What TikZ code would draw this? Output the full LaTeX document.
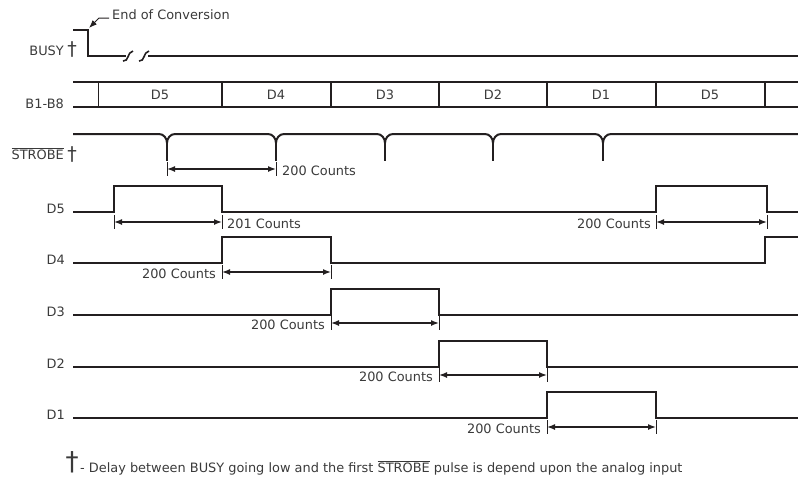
\documentclass[tikz,border=0pt]{standalone}
\usepackage{fontspec}
\setmainfont{DejaVu Sans}
\usepackage{amsmath}
\usetikzlibrary{arrows.meta}
\definecolor{ink}{HTML}{231F20}
\definecolor{txt}{HTML}{3A3A3A}

\begin{document}
\begin{tikzpicture}[x=1pt,y=-1pt,
  sig/.style={ink,line width=2pt},
  dim/.style={ink,line width=1.4pt,{Latex[length=8pt,width=6pt]}-{Latex[length=8pt,width=6pt]}},
  tick/.style={ink,line width=0.7pt},
  lab/.style={txt,font=\fontsize{12.9}{14}\selectfont,inner sep=0pt},
  dag/.style={txt,font=\fontsize{19}{20}\selectfont,inner sep=0pt}]
\useasboundingbox (0,0) rectangle (798,483);

\node[lab,anchor=base east] (busy) at (64,55) {BUSY};
\node[dag,anchor=base] (busydag) at (72,55) {†};
\draw[sig] (73,30) -- (88,30) -- (88,56) -- (126,56);
\draw[sig,line width=1.6pt] (123,61) .. controls (129,62) and (127,52) .. (133,51);
\draw[sig,line width=1.6pt] (139,61) .. controls (145,62) and (143,52) .. (149,51);
\draw[sig] (148,56) -- (798,56);
\node[lab,anchor=base west] (eoc) at (112,19) {End of Conversion};
\coordinate (fall) at (89,28);
\draw[ink,line width=1pt,-{Latex[length=8pt,width=6pt]}] (eoc.base west) ++(-3,-1) -- ++(-10,0) -- (fall);

\node[lab,anchor=base east] (bus) at (64,108) {B1-B8};
\draw[sig,line width=2.5pt] (73,82) -- (798,82) (73,107) -- (798,107);
\draw[ink,line width=0.8pt] (98,82) -- (98,107);
\foreach \x in {222,331,439,547,656,765} \draw[sig] (\x,82) -- (\x,107);
\foreach \x/\t in {160/D5,276/D4,385/D3,493/D2,601/D1,710/D5}
  \node[lab] (cell\x) at (\x,95) {\t};

\node[lab,anchor=base east] (strobe) at (64,159) {$\overline{\text{STROBE}}$};
\node[dag,anchor=base] (strobedag) at (72,160) {†};
\draw[sig] (73,134) foreach \x in {167,276,385,493,603}
  { -- (\x-8,134) to[out=0,in=90] (\x,143) to[out=90,in=180] (\x+8,134) } -- (798,134);
\foreach \x in {167,276,385,493,603} \draw[sig] (\x,143) -- (\x,161);

\node[lab,anchor=base east] (d5) at (65,213) {D5};
\node[lab,anchor=base east] (d4) at (65,264) {D4};
\node[lab,anchor=base east] (d3) at (65,316) {D3};
\node[lab,anchor=base east] (d2) at (65,368) {D2};
\node[lab,anchor=base east] (d1) at (65,419) {D1};
\draw[sig] (73,212) -- (114,212) -- (114,186) -- (222,186) -- (222,212) -- (656,212)
  -- (656,186) -- (767,186) -- (767,212) -- (798,212);
\draw[sig] (73,263) -- (222,263) -- (222,237) -- (331,237) -- (331,263) -- (765,263)
  -- (765,237) -- (798,237);
\foreach \lo/\a/\b in {315/331/439,367/439/547,418/547/656}
  \draw[sig] (73,\lo) -- (\a,\lo) -- (\a,\lo-26) -- (\b,\lo-26) -- (\b,\lo) -- (798,\lo);

\foreach \a/\b/\y in {167/276/169,114/222/222,656/767/222,222/331/272,331/439/323,439/547/375,547/656/427}
{
  \draw[dim] (\a,\y) -- (\b,\y);
  \draw[tick] (\a,\y-7) -- (\a,\y+7) (\b,\y-7) -- (\b,\y+7);
}
\node[lab,anchor=base west] (n1) at (282,175) {200 Counts};
\node[lab,anchor=base west] (n2) at (227,228) {201 Counts};
\node[lab,anchor=base east] (n3) at (651,228) {200 Counts};
\node[lab,anchor=base east] (n4) at (216,278) {200 Counts};
\node[lab,anchor=base east] (n5) at (325,329) {200 Counts};
\node[lab,anchor=base east] (n6) at (433,381) {200 Counts};
\node[lab,anchor=base east] (n7) at (541,433) {200 Counts};

\node[dag,font=\fontsize{26}{28}\selectfont,anchor=base] (fndag) at (72,470) {†};
\node[lab,anchor=base west] (note) at (80,472)
  {- Delay between BUSY going low and the first $\overline{\text{STROBE}}$ pulse is depend upon the analog input};
\end{tikzpicture}
\end{document}
